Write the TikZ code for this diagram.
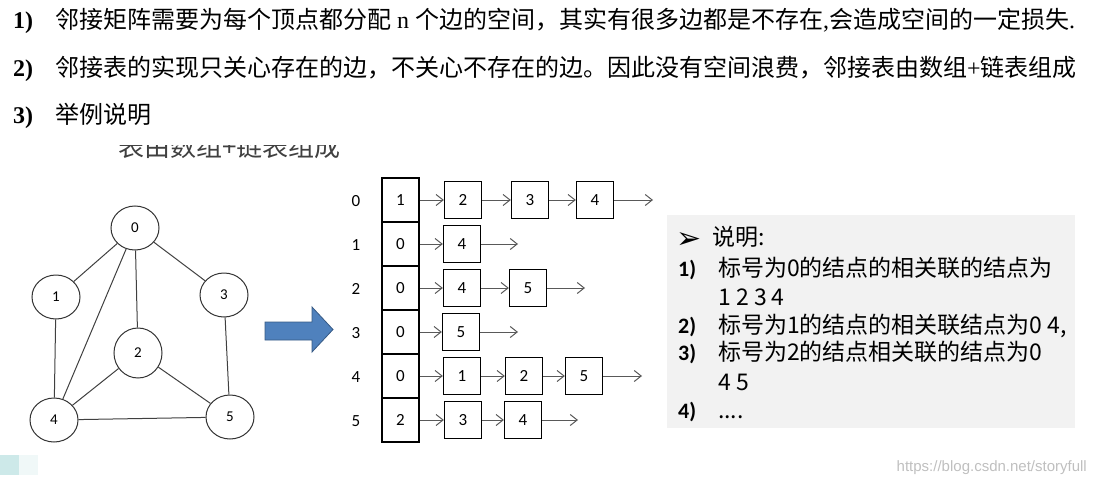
\documentclass[tikz,border=0pt]{standalone}
\usepackage{fontspec}
\setmainfont{Liberation Serif}
\newfontfamily\cjk{Noto Sans CJK SC}
\newfontfamily\calfont{Carlito}
\newfontfamily\symfont{DejaVu Sans}
\newfontfamily\webfont{Liberation Sans}
\usetikzlibrary{shapes.geometric,arrows.meta}
\definecolor{arrowblue}{HTML}{4F81BD}
\definecolor{notebg}{HTML}{F2F2F2}
\definecolor{cyanpatch}{HTML}{CDE9E9}

\begin{document}
\begin{tikzpicture}[x=1pt,y=-1pt,
  vertex/.style={draw=black!80, line width=1pt, ellipse, minimum width=48pt,
    minimum height=44pt, inner sep=0pt, font=\calfont\fontsize{15}{15}\selectfont},
  edge/.style={draw=black!75, line width=1pt},
  cell/.style={draw, line width=1.8pt, minimum width=37pt, minimum height=44pt,
    inner sep=0pt, font=\calfont\fontsize{17}{17}\selectfont},
  lbox/.style={draw, line width=1.3pt, minimum width=37pt, minimum height=37pt,
    inner sep=0pt, font=\calfont\fontsize{17}{17}\selectfont},
  link/.style={draw=black!65, line width=1pt, -{Straight Barb[length=7pt,width=11pt]}},
  idx/.style={font=\calfont\fontsize{17}{17}\selectfont},
  topline/.style={anchor=base west, inner sep=0pt, font=\fontsize{24}{24}\selectfont},
  note/.style={anchor=base west, inner sep=0pt, font=\cjk\fontsize{23}{23}\selectfont},
  notenum/.style={anchor=base west, inner sep=0pt, font=\calfont\bfseries\fontsize{22}{22}\selectfont}]
  \useasboundingbox (0,0) rectangle (1097,487);

  % header lines
  \node[topline] (n1) at (13,29) {\textbf{1)}};
  \node[topline] (t1) at (55,29) {\cjk 邻接矩阵需要为每个顶点都分配{\rmfamily\ n\ }个边的空间，其实有很多边都是不存在{\rmfamily ,}会造成空间的一定损失{\rmfamily .}};
  \node[topline] (n2) at (13,77) {\textbf{2)}};
  \node[topline] (t2) at (55,77) {\cjk 邻接表的实现只关心存在的边，不关心不存在的边。因此没有空间浪费，邻接表由数组{\rmfamily +}链表组成};
  \node[topline] (n3) at (13,123) {\textbf{3)}};
  \node[topline] (t3) at (55,123) {\cjk 举例说明};

  \begin{scope}
    \clip (100,145) rectangle (360,165);
    \node[anchor=base west, inner sep=0pt, text=black!75,
      font=\cjk\fontsize{26}{26}\selectfont] (hdr) at (118,156) {表由数组+链表组成};
  \end{scope}

  % graph
  \node[vertex] (v0) at (135,228) {0};
  \node[vertex] (v1) at (56,297) {1};
  \node[vertex] (v3) at (224,295) {3};
  \node[vertex, minimum height=50pt] (v2) at (138,353) {2};
  \node[vertex] (v4) at (54,420) {4};
  \node[vertex] (v5) at (230,417) {5};
  \draw[edge] (v0) -- (v1);
  \draw[edge] (v0) -- (v3);
  \draw[edge] (v0) -- (v2);
  \draw[edge] (v0) -- (v4);
  \draw[edge] (v1) -- (v4);
  \draw[edge] (v2) -- (v4);
  \draw[edge] (v2) -- (v5);
  \draw[edge] (v3) -- (v5);
  \draw[edge] (v4) -- (v5);

  \draw[fill=arrowblue, draw=arrowblue!70!black, line width=0.8pt]
    (265,322) -- (312,322) -- (312,307) -- (333,329.5) -- (312,352)
    -- (312,340) -- (265,340) -- cycle;

  % array + lists
  \foreach \i/\v in {0/1,1/0,2/0,3/0,4/0,5/2} {
    \node[idx] (i\i) at (356,{201+44*\i}) {\i};
    \node[cell] (a\i) at (400.5,{200+44*\i}) {\v};
  }

  \node[lbox] (b01) at (463,200) {2};
  \node[lbox] (b02) at (530,200) {3};
  \node[lbox] (b03) at (595,200) {4};
  \coordinate (e0) at (653,200);
  \draw[link] (a0) -- (b01);
  \draw[link] (b01) -- (b02);
  \draw[link] (b02) -- (b03);
  \draw[link] (b03) -- (e0);

  \node[lbox] (b11) at (462,244) {4};
  \coordinate (e1) at (518,244);
  \draw[link] (a1) -- (b11);
  \draw[link] (b11) -- (e1);

  \node[lbox] (b21) at (462,288) {4};
  \node[lbox] (b22) at (528,288) {5};
  \coordinate (e2) at (585,288);
  \draw[link] (a2) -- (b21);
  \draw[link] (b21) -- (b22);
  \draw[link] (b22) -- (e2);

  \node[lbox] (b31) at (461,332) {5};
  \coordinate (e3) at (518,332);
  \draw[link] (a3) -- (b31);
  \draw[link] (b31) -- (e3);

  \node[lbox] (b41) at (462,376) {1};
  \node[lbox] (b42) at (524,376) {2};
  \node[lbox] (b43) at (584,376) {5};
  \coordinate (e4) at (642,376);
  \draw[link] (a4) -- (b41);
  \draw[link] (b41) -- (b42);
  \draw[link] (b42) -- (b43);
  \draw[link] (b43) -- (e4);

  \node[lbox] (b51) at (463,420) {3};
  \node[lbox] (b52) at (523,420) {4};
  \coordinate (e5) at (578,420);
  \draw[link] (a5) -- (b51);
  \draw[link] (b51) -- (b52);
  \draw[link] (b52) -- (e5);

  % notes
  \node[fill=notebg, anchor=north west, minimum width=408pt, minimum height=213pt,
    inner sep=0pt] (notes) at (667,215) {};
  \node[anchor=base west, inner sep=0pt, font=\symfont\bfseries\fontsize{30}{30}\selectfont] (bul) at (676,248) {➢};
  \node[note] (h) at (712,245) {说明:};
  \node[notenum] (m1) at (678,276) {1)};
  \node[note] (l1) at (718,276) {标号为0的结点的相关联的结点为};
  \node[note] (l1b) at (718,305) {1 2 3 4};
  \node[notenum] (m2) at (678,333) {2)};
  \node[note] (l2) at (718,333) {标号为1的结点的相关联结点为0 4,};
  \node[notenum] (m3) at (678,360) {3)};
  \node[note] (l3) at (718,360) {标号为2的结点相关联的结点为0};
  \node[note] (l3b) at (718,390) {4 5};
  \node[notenum] (m4) at (678,418) {4)};
  \node[note] (l4) at (718,418) {....};

  \node[anchor=base east, inner sep=0pt, text=black!25,
    font=\webfont\fontsize{15}{15}\selectfont] (wm) at (1087,471) {https://blog.csdn.net/storyfull};
  \fill[cyanpatch] (0,455) rectangle (19,475);
  \fill[cyanpatch!30] (19,455) rectangle (38,475);
\end{tikzpicture}
\end{document}
